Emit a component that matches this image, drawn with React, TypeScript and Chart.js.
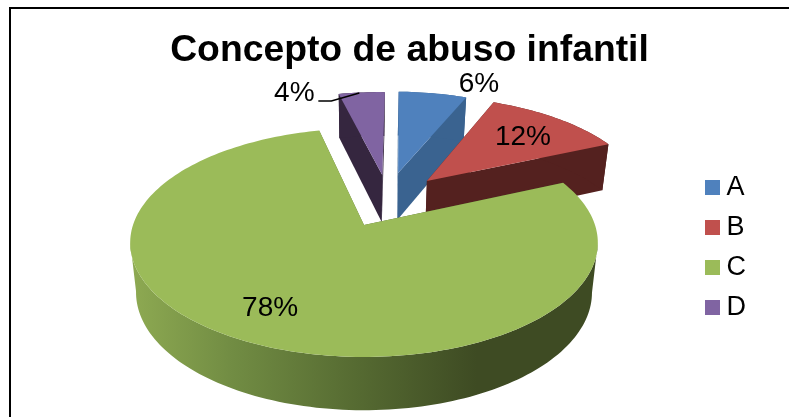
import React, { useEffect, useRef } from "react";
import { Chart, registerables } from "chart.js";

Chart.register(...registerables);

const categories = ["A", "B", "C", "D"];
const values = [6, 12, 78, 4];
const sliceLabels = ["6%", "12%", "78%", "4%"];
const colors = ["#4f81bd", "#c0504d", "#9bbb59", "#8064a2"];
const wallColors = ["#3a6390", "#54211f", "#3e4b23", "#35263f"];
const chartTitle = "Concepto de abuso infantil";

// pie-plane offsets of the exploded slices, in pie radii
const explodeU = [0.159, 0.29, 0, 0.085];
const explodeV = [-0.503, -0.42, 0, -0.482];
const sliceRadius = [0.965, 0.985, 1, 0.98];
// label anchors in the pie plane
const labelU = [0.62, 0.785, -0.365, -0.37];
const labelV = [-1.587, -0.911, 0.66, -1.463];
const paintOrder = [3, 0, 1, 2];

const CX = 364, CY = 225, AX = 231, BY = 111.5, PERSP = 0.155, DEPTH = 49, DEPTH_PERSP = 0.08, BOTTOM_X = 0.975;

type Pt = { x: number; y: number };

function project(u: number, v: number, down = false): Pt {
  const w = 1 - PERSP * v;
  const sx = down ? BOTTOM_X : 1;
  const z = down ? DEPTH / (1 - DEPTH_PERSP * v) : 0;
  return { x: CX + (AX * sx * u) / w, y: CY + (BY * v) / w + z };
}

function arcPoints(i: number, a0: number, a1: number, down: boolean) {
  const pts: Pt[] = [];
  const n = Math.max(8, Math.ceil((a1 - a0) * 40));
  const r = sliceRadius[i];
  for (let k = 0; k <= n; k++) {
    const a = a0 + ((a1 - a0) * k) / n;
    pts.push(project(explodeU[i] + r * Math.cos(a), explodeV[i] + r * Math.sin(a), down));
  }
  return pts;
}

// part of an arc between its rightmost and its leftmost point
function frontPart(pts: Pt[]) {
  let hi = 0;
  let lo = 0;
  pts.forEach((p, k) => {
    if (p.x > pts[hi].x) hi = k;
    if (p.x < pts[lo].x) lo = k;
  });
  return pts.slice(Math.min(hi, lo), Math.max(hi, lo) + 1);
}

function fillPoly(ctx: CanvasRenderingContext2D, pts: Pt[], fill: string | CanvasGradient) {
  ctx.beginPath();
  pts.forEach((p, k) => (k ? ctx.lineTo(p.x, p.y) : ctx.moveTo(p.x, p.y)));
  ctx.closePath();
  ctx.fillStyle = fill;
  ctx.fill();
}

const pie3d = {
  id: "pie3d",
  beforeDraw(chart: any) {
    const { ctx, width, height } = chart;
    ctx.save();
    ctx.fillStyle = "#ffffff";
    ctx.fillRect(0, 0, width, height);
    ctx.fillStyle = "#000000";
    ctx.fillRect(9, 7, width - 9, 2);
    ctx.fillRect(9, 7, 2, height - 7);
    ctx.restore();
  },
  beforeDatasetsDraw(chart: any) {
    const ctx: CanvasRenderingContext2D = chart.ctx;
    const meta = chart.getDatasetMeta(0);
    ctx.save();
    paintOrder.forEach((i) => {
      const arc = meta.data[i];
      const { startAngle: a0, endAngle: a1 } = arc.getProps(["startAngle", "endAngle"], true);
      const tip = project(explodeU[i], explodeV[i]);
      const tipB = project(explodeU[i], explodeV[i], true);
      const top = arcPoints(i, a0, a1, false);
      const bot = arcPoints(i, a0, a1, true);
      let wall: string | CanvasGradient = wallColors[i];
      if (i === 2) {
        const g = ctx.createLinearGradient(130, 0, 598, 0);
        g.addColorStop(0, "#8eaa52");
        g.addColorStop(0.22, "#718c43");
        g.addColorStop(0.48, "#566b32");
        g.addColorStop(0.74, "#3e4b23");
        g.addColorStop(1, "#3e4b23");
        wall = g;
      }
      fillPoly(ctx, [tip, top[0], bot[0], tipB], wall);
      fillPoly(ctx, [tip, top[top.length - 1], bot[bot.length - 1], tipB], wall);
      fillPoly(ctx, [...frontPart(top), ...frontPart(bot).reverse()], wall);
      fillPoly(ctx, [tip, ...top], colors[i]);
    });
    ctx.fillStyle = "#000000";
    ctx.font = '28px "Liberation Sans"';
    ctx.textAlign = "center";
    ctx.textBaseline = "middle";
    sliceLabels.forEach((t, i) => {
      const p = project(labelU[i], labelV[i]);
      ctx.fillText(t, p.x, p.y + 1.5);
    });
    // leader line of the smallest slice
    const q = project(labelU[3], labelV[3]);
    ctx.strokeStyle = "#000000";
    ctx.lineWidth = 1.5;
    ctx.beginPath();
    ctx.moveTo(q.x + 24, q.y + 9);
    ctx.lineTo(q.x + 37, q.y + 9);
    ctx.lineTo(q.x + 65, q.y + 1);
    ctx.stroke();
    ctx.restore();
    return false;
  },
};

function swatch(color: string) {
  const c = document.createElement("canvas");
  c.width = 15;
  c.height = 15;
  const g = c.getContext("2d")!;
  g.fillStyle = color;
  g.fillRect(0, 0, 15, 15);
  return c;
}

export default function App() {
  const ref = useRef<HTMLCanvasElement>(null);
  useEffect(() => {
    const chart = new Chart(ref.current!, {
      type: "pie",
      data: {
        labels: categories,
        datasets: [{ data: values, backgroundColor: colors, borderWidth: 0 }],
      },
      options: {
        responsive: false,
        animation: false,
        rotation: 1.5,
        layout: { padding: { left: 63, right: 33, top: 24, bottom: 0 } },
        plugins: {
          tooltip: { enabled: false },
          title: {
            display: true,
            text: chartTitle,
            color: "#000000",
            font: { family: '"Liberation Sans"', size: 37.3, weight: "bold" },
            padding: { top: 4, bottom: 6 },
          },
          legend: {
            position: "right",
            fullSize: false,
            labels: {
              usePointStyle: true,
              boxWidth: 2,
              boxHeight: 15,
              padding: 13,
              color: "#000000",
              font: { family: '"Liberation Sans"', size: 27 },
              generateLabels: () =>
                categories.map((text, i) => ({
                  text,
                  pointStyle: swatch(colors[i]),
                  fontColor: "#000000",
                  lineWidth: 0,
                  hidden: false,
                  index: i,
                })),
            },
          },
        },
      },
      plugins: [pie3d],
    } as any);
    return () => chart.destroy();
  }, []);
  return (
    <canvas
      ref={ref}
      width={789}
      height={417}
      style={{ position: "absolute", left: 0, top: 0, display: "block" }}
    />
  );
}
